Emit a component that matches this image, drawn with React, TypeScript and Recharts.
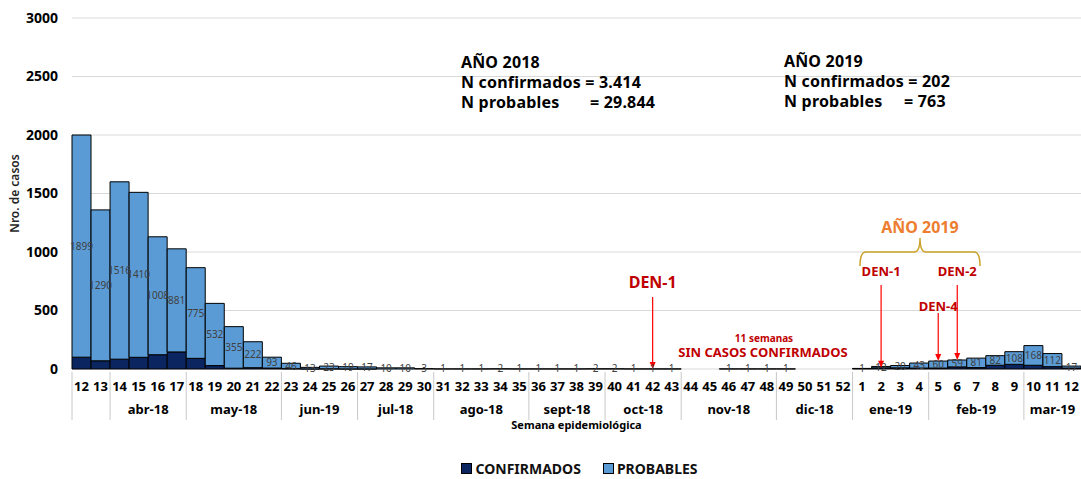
import React from 'react';
import {
  BarChart,
  Bar,
  XAxis,
  YAxis,
  CartesianGrid,
  Legend,
  LabelList,
  ReferenceLine,
  Customized,
} from 'recharts';

// semanas epidemiológicas
const weeks2018 = [
  12, 13, 14, 15, 16, 17, 18, 19, 20, 21, 22, 23, 24, 25, 26, 27, 28, 29, 30, 31, 32,
  33, 34, 35, 36, 37, 38, 39, 40, 41, 42, 43, 44, 45, 46, 47, 48, 49, 50, 51, 52,
];
const weeks2019 = [1, 2, 3, 4, 5, 6, 7, 8, 9, 10, 11, 12];

const confirmados2018 = [
  101, 70, 84, 100, 122, 146, 91, 29, 7, 11, 8, 3, 1, 2, 1, 1, 0, 0, 0, 0, 0,
  0, 0, 0, 0, 0, 0, 0, 0, 0, 0, 0, 0, 0, 0, 0, 0, 0, 0, 0, 0,
];
const probables2018 = [
  1899, 1290, 1516, 1410, 1008, 881, 775, 532, 355, 222, 93, 46, 13, 23, 19, 17, 10, 10, 3, 1, 1,
  1, 2, 1, 1, 1, 1, 2, 2, 1, 1, 1, 0, 0, 1, 1, 1, 1, 0, 0, 0,
];
const confirmados2019 = [4, 10, 10, 8, 8, 18, 12, 32, 40, 32, 20, 8];
const probables2019 = [1, 12, 20, 43, 60, 59, 81, 82, 108, 168, 112, 17];

// meses (etiqueta y número de semanas que abarca)
const monthLabels = ['', 'abr-18', 'may-18', 'jun-19', 'jul-18', 'ago-18', 'sept-18', 'oct-18', 'nov-18', 'dic-18', 'ene-19', 'feb-19', 'mar-19'];
const monthSpans = [2, 4, 5, 4, 4, 5, 4, 4, 5, 4, 4, 5, 3];

const yTicks = [0, 500, 1000, 1500, 2000, 2500, 3000];

const data = [
  ...weeks2018.map((w, i) => ({
    key: `2018-${w}`,
    confirmados: confirmados2018[i],
    probables: probables2018[i],
  })),
  ...weeks2019.map((w, i) => ({
    key: `2019-${w}`,
    confirmados: confirmados2019[i],
    probables: probables2019[i],
  })),
];

const W = 1081;
const H = 479;
const PLOT_LEFT = 72;
const STEP = (W - PLOT_LEFT) / data.length;
const FONT = '"Noto Sans", "Open Sans", sans-serif';
const RED = '#C00000';

// grupos de meses por índice
const monthGroups = (() => {
  const groups: { start: number; end: number; label: string }[] = [];
  let s = 0;
  monthSpans.forEach((n, i) => {
    groups.push({ start: s, end: s + n - 1, label: monthLabels[i] });
    s += n;
  });
  return groups;
})();

function MonthTick(props: any) {
  const { x, y, payload } = props;
  const i = props.index ?? payload.index;
  const g = monthGroups.find((m) => i >= m.start && i <= m.end);
  if (!g || i !== g.start) return <g />;
  const left = x - STEP / 2;
  const cx = x + ((g.end - g.start) / 2) * STEP;
  return (
    <g>
      <line x1={left} x2={left} y1={y - 31} y2={y + 17} stroke="#c8c8c8" strokeWidth={1} />
      <text x={cx} y={y + 11} textAnchor="middle" fontSize={13} fontWeight={700} fill="#000" fontFamily={FONT}>
        {g.label}
      </text>
    </g>
  );
}

const arrow = (label: string, fontSize: number, gap: number) => (p: any) => {
  const { x1, y1, x2, y2 } = p;
  return (
    <g>
      <text x={x1} y={y1 - gap} textAnchor="middle" fontSize={fontSize} fontWeight={700} fill={RED} fontFamily={FONT}>
        {label}
      </text>
      <line x1={x1} y1={y1} x2={x2} y2={y2 - 5} stroke="#FF0000" strokeWidth={1.2} />
      <polygon points={`${x2 - 3},${y2 - 7} ${x2 + 3},${y2 - 7} ${x2},${y2}`} fill="#FF0000" />
    </g>
  );
};

function Annotations() {
  const t = { fontFamily: FONT, fontWeight: 700, fill: '#000', fontSize: 16, letterSpacing: 0.2 } as const;
  return (
    <g>
      <text x={461} y={68} {...t}>AÑO 2018</text>
      <text x={461} y={88} {...t}>N confirmados = 3.414</text>
      <text x={461} y={108} {...t}>N probables</text>
      <text x={590} y={108} {...t}>= 29.844</text>

      <text x={784} y={67} {...t}>AÑO 2019</text>
      <text x={784} y={87} {...t}>N confirmados = 202</text>
      <text x={784} y={107} {...t}>N probables</text>
      <text x={904} y={107} {...t}>= 763</text>

      <text x={920} y={233} textAnchor="middle" fontSize={16} fontWeight={700} fill="#ED7D31" fontFamily={FONT}>
        AÑO 2019
      </text>
      <path
        d="M860,266 Q860,252 866,252 L914,252 Q920,252 920,238 Q920,252 926,252 L974,252 Q980,252 980,266"
        fill="none"
        stroke="#C9A227"
        strokeWidth={1.5}
      />

      <text x={764} y={342} textAnchor="middle" fontSize={10} fontWeight={700} fill={RED} fontFamily={FONT}>
        11 semanas
      </text>
      <text x={763} y={357} textAnchor="middle" fontSize={13} fontWeight={700} fill={RED} fontFamily={FONT}>
        SIN CASOS CONFIRMADOS
      </text>
    </g>
  );
}

function LegendContent() {
  const item = (color: string, label: string) => (
    <span style={{ display: 'inline-flex', alignItems: 'center', marginRight: 22 }}>
      <span style={{ width: 9, height: 9, background: color, border: '1px solid #000', marginRight: 3 }} />
      <span style={{ fontSize: 14, fontWeight: 700, color: '#111' }}>{label}</span>
    </span>
  );
  return (
    <div style={{ height: 22, display: 'flex', alignItems: 'center', justifyContent: 'center', paddingLeft: 100, fontFamily: FONT }}>
      {item('#0B2560', 'CONFIRMADOS')}
      {item('#5B9BD5', 'PROBABLES')}
    </div>
  );
}

export default function App() {
  return (
    <div style={{ width: W, height: H, fontFamily: FONT, background: '#fff' }}>
      <style>{'body{margin:0}'}</style>
      <BarChart
        width={W}
        height={H}
        data={data}
        margin={{ top: 18, right: 0, left: 0, bottom: 0 }}
        barCategoryGap={0}
        barGap={0}
      >
        <CartesianGrid xAxisId="a" vertical={false} stroke="#d9d9d9" />
        <XAxis
          xAxisId="a"
          dataKey="key"
          interval={0}
          axisLine={false}
          tickLine={false}
          tickMargin={7}
          height={26}
          tickFormatter={(v: string) => v.split('-')[1]}
          tick={{ fontSize: 13, fontWeight: 700, fill: '#000', fontFamily: FONT }}
        />
        <XAxis
          xAxisId="b"
          dataKey="key"
          interval={0}
          axisLine={false}
          tickLine={false}
          height={62}
          tick={<MonthTick />}
          label={{
            value: 'Semana epidemiológica',
            position: 'insideTop',
            offset: 26,
            fontSize: 11,
            fontWeight: 700,
            fill: '#000',
            fontFamily: FONT,
          }}
        />
        <YAxis
          width={72}
          domain={[0, 3000]}
          ticks={yTicks}
          interval={0}
          axisLine={false}
          tickLine={false}
          tickMargin={8}
          tick={{ fontSize: 14, fontWeight: 700, fill: '#000', fontFamily: FONT }}
          label={{
            value: 'Nro. de casos',
            angle: -90,
            position: 'insideLeft',
            offset: 15,
            fontSize: 12,
            fontWeight: 600,
            fill: '#262626',
            fontFamily: FONT,
            style: { textAnchor: 'middle' },
          }}
        />
        <Legend verticalAlign="bottom" content={<LegendContent />} />
        <Bar
          xAxisId="a"
          dataKey="confirmados"
          name="CONFIRMADOS"
          stackId="s"
          fill="#0B2560"
          stroke="#000"
          strokeWidth={1}
          isAnimationActive={false}
        />
        <Bar
          xAxisId="a"
          dataKey="probables"
          name="PROBABLES"
          stackId="s"
          fill="#5B9BD5"
          stroke="#000"
          strokeWidth={1}
          isAnimationActive={false}
        >
          <LabelList dataKey="probables" position="center" fontSize={10} fill="#404040" fontFamily={FONT} />
        </Bar>
        <ReferenceLine
          xAxisId="a"
          segment={[{ x: '2018-42', y: 615 }, { x: '2018-42', y: 0 }]}
          shape={arrow('DEN-1', 16, 9)}
          ifOverflow="visible"
        />
        <ReferenceLine
          xAxisId="a"
          segment={[{ x: '2019-2', y: 718 }, { x: '2019-2', y: 10 }]}
          shape={arrow('DEN-1', 13, 9)}
          ifOverflow="visible"
        />
        <ReferenceLine
          xAxisId="a"
          segment={[{ x: '2019-5', y: 479 }, { x: '2019-5', y: 68 }]}
          shape={arrow('DEN-4', 13, 2)}
          ifOverflow="visible"
        />
        <ReferenceLine
          xAxisId="a"
          segment={[{ x: '2019-6', y: 718 }, { x: '2019-6', y: 77 }]}
          shape={arrow('DEN-2', 13, 9)}
          ifOverflow="visible"
        />
        <Customized component={<Annotations />} />
      </BarChart>
    </div>
  );
}
